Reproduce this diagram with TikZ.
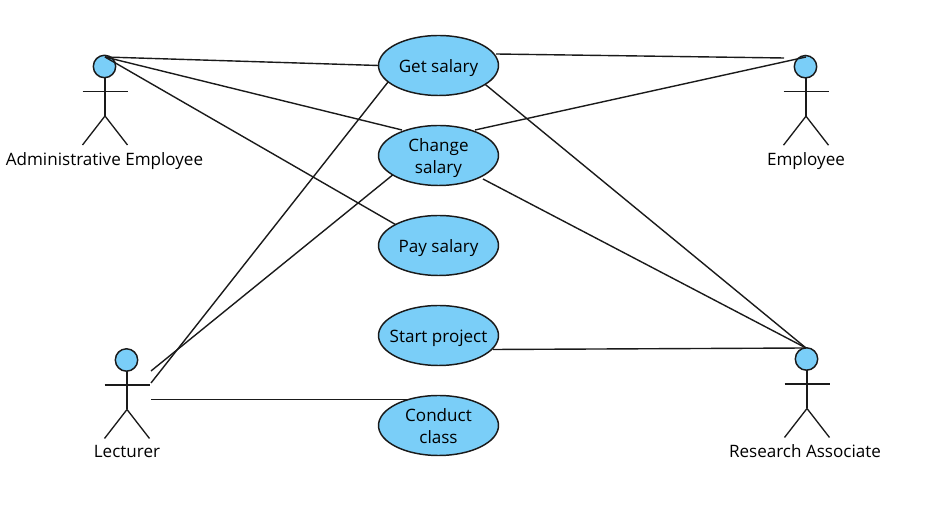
\documentclass[tikz,border=0pt]{standalone}
\usepackage{fontspec}
\setmainfont{Open Sans}
\usetikzlibrary{shapes.geometric}
\definecolor{ucblue}{HTML}{7ACEF8}
\definecolor{inkc}{HTML}{1A1A1A}
\newcommand{\uctxt}[1]{\makebox[0pt]{\smash{\raisebox{-5pt}{\begin{tabular}{@{}c@{}}#1\end{tabular}}}}}
\tikzset{
  usecase/.style={ellipse,draw=inkc,fill=ucblue,line width=1.1pt,minimum width=90pt,minimum height=45pt,inner sep=0pt,outer sep=0pt,font=\fontsize{12.8pt}{16pt}\selectfont,text=black},
  actorlabel/.style={inner sep=0pt,font=\fontsize{12.8pt}{15pt}\selectfont,text=black},
  headc/.style={circle,draw=inkc,fill=ucblue,line width=1.1pt,minimum size=16.8pt,inner sep=0pt,outer sep=0pt},
  limb/.style={draw=inkc,line width=1pt},
  link/.style={draw=inkc,line width=1.05pt}
}
\newcommand{\stickman}[3]{% name, x, y of head centre
  \node[headc] (#1) at (#2,#3) {};
  \draw[limb] (#2+0.5,#3+11.5) -- (#2+0.5,#3+49.5);
  \draw[limb] (#2-22,#3+25) -- (#2+23,#3+25);
  \draw[limb] (#2-22,#3+78.5) -- (#2+0.5,#3+49.5) -- (#2+23,#3+78.5);
}
\begin{document}
\begin{tikzpicture}[x=0.75pt,y=-0.75pt]
\useasboundingbox (0,0) rectangle (926,505);
\node[usecase] (get) at (438.5,65.5) {\uctxt{Get salary}};
\node[usecase] (change) at (438.5,155.5) {\uctxt{Change\\salary}};
\node[usecase] (pay) at (438.5,245.5) {\uctxt{Pay salary}};
\node[usecase] (start) at (438.5,335.5) {\uctxt{Start project}};
\node[usecase] (conduct) at (438.5,425.5) {\uctxt{Conduct\\class}};
\stickman{admin}{104.5}{66.5}
\stickman{lecturer}{126.5}{360}
\stickman{employee}{805.5}{66.7}
\stickman{research}{806.5}{359}
\node[actorlabel] (adminl) at (104.5,161) {Administrative Employee};
\node[actorlabel] (lecturerl) at (127,451.5) {Lecturer};
\node[actorlabel] (employeel) at (806,161) {Employee};
\node[actorlabel] (researchl) at (805,451.5) {Research Associate};
\coordinate (adminp) at (105,57);
\coordinate (empa) at (784,58);
\coordinate (empb) at (806,57);
\coordinate (resp) at (806,348);
\coordinate (leca) at (151,371);
\coordinate (lecb) at (151,383);
\coordinate (lecc) at (151,399.5);
\coordinate (confoot) at (410,399.5);
\coordinate (chgtop) at (402,130);
\coordinate (chgtr) at (475,130);
\coordinate (chgbr) at (483,179);
\coordinate (startr) at (493,349.5);
\coordinate (getr) at (496,54);
\draw[link] (adminp) -- (get.180);
\draw[link] (adminp) -- (chgtop);
\draw[link] (adminp) -- (pay.154);
\draw[link] (lecb) -- (get.198);
\draw[link] (leca) -- (change.203);
\draw[link] (lecc) -- (confoot);
\draw[link] (getr) -- (empa);
\draw[link] (chgtr) -- (empb);
\draw[link] (get.338) -- (resp);
\draw[link] (chgbr) -- (resp);
\draw[link] (startr) -- (resp);
\end{tikzpicture}
\end{document}
